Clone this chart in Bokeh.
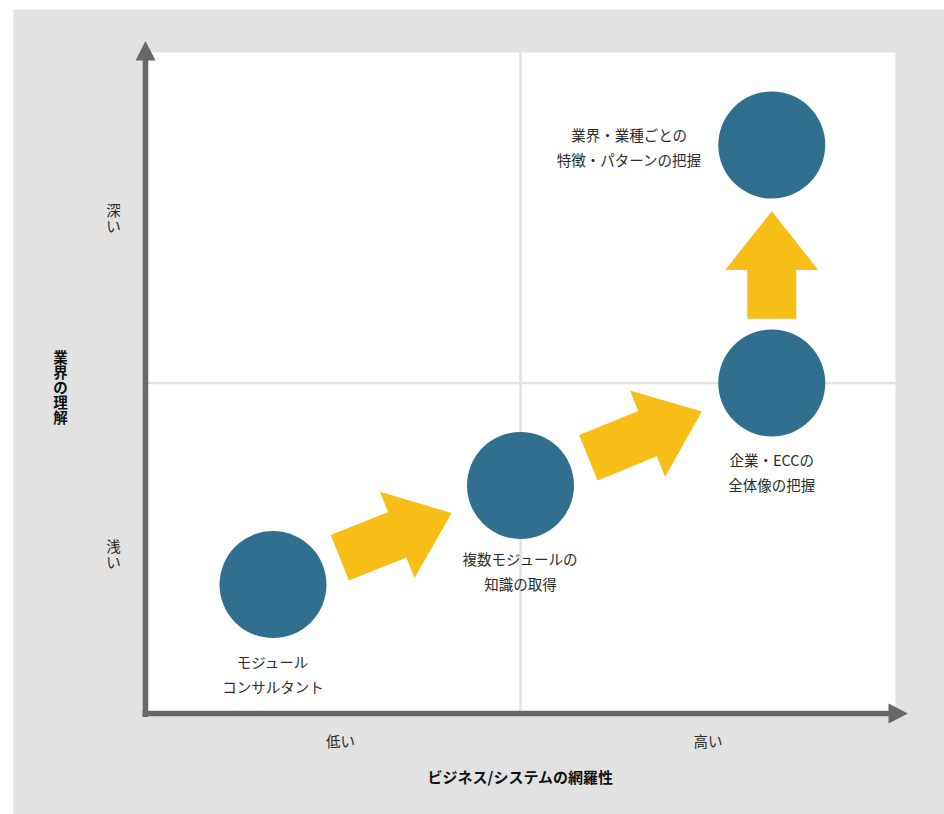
import numpy as np
from bokeh.plotting import figure
from bokeh.models import Range1d, ColumnDataSource
from bokeh.embed import file_html
from bokeh.resources import INLINE
from bokeh.core.properties import value

# ---------------- data ----------------
point_labels = ["モジュール\nコンサルタント", "複数モジュールの\n知識の取得",
                "企業・ECCの\n全体像の把握", "業界・業種ごとの\n特徴・パターンの把握"]
point_x = [0.34, 1.00, 1.67, 1.67]
point_y = [0.39, 0.69, 1.00, 1.72]
label_x = [0.34, 1.00, 1.67, 1.29]
label_y = [0.12, 0.43, 0.73, 1.715]
arrow_from = [0, 1, 2]
arrow_to = [1, 2, 3]
x_ticks = [0.52, 1.50]
x_tick_labels = ["低い", "高い"]
y_ticks = [0.485, 1.50]
y_tick_labels = ["浅\nい", "深\nい"]
x_title = "ビジネス/システムの網羅性"
y_title = "業\n界\nの\n理\n解"
x_mid = 1.0
y_mid = 1.0
x_max = 2.0
y_max = 2.0

# ---------------- layout (page pixels) ----------------
FIG_W, FIG_H, ORIGIN = 944, 814, 0
FL, FR, FT, FB = 145.0, 895.0, 52.0, 713.0   # plot area in picture px
SX = (FR - FL) / x_max
SY = (FB - FT) / y_max

def dx(px):
    return (px - FL) / SX

def dy(py):
    return (FB - py) / SY

def to_px(x):
    return FL + x * SX

def to_py(y):
    return FB - y * SY

FONT = "Noto Sans CJK JP"
BG = "#e1e2e1"
BLUE = "#30708e"
YELLOW = "#f7be17"
AXIS = "#686868"
GRID = "#e2e2e2"
TEXT = "#2b2b2b"

p = figure(width=FIG_W, height=FIG_H, output_backend="svg", toolbar_location=None,
           x_range=Range1d(dx(ORIGIN), dx(ORIGIN + FIG_W)),
           y_range=Range1d(dy(ORIGIN + FIG_H), dy(ORIGIN)),
           min_border=0, outline_line_color=None, background_fill_color="white",
           border_fill_color="white")
p.axis.visible = False
p.grid.visible = False

# background panel and white plotting area
p.quad(left=[dx(13)], right=[dx(960)], bottom=[dy(830)], top=[dy(9)],
       fill_color=BG, line_color=None)
p.quad(left=[0], right=[x_max], bottom=[0], top=[y_max], fill_color="white", line_color=None)

# quadrant lines
p.segment(x0=[x_mid, 0], y0=[0, y_mid], x1=[x_mid, x_max], y1=[y_max, y_mid],
          line_color=GRID, line_width=2.5)

# axes with arrow heads
p.segment(x0=[0], y0=[dy(FB + 3.5)], x1=[0], y1=[dy(FT + 7)], line_color=AXIS, line_width=5.5)
p.segment(x0=[dx(FL - 3)], y0=[0], x1=[dx(FR - 6)], y1=[0], line_color=AXIS, line_width=5.5)
p.patch(x=[dx(FL - 10), dx(FL + 10), 0], y=[dy(FT + 8), dy(FT + 8), dy(FT - 11.5)],
        fill_color=AXIS, line_color=None)
p.patch(x=[dx(FR - 7), dx(FR - 7), dx(FR + 12.5)], y=[dy(FB - 10), dy(FB + 10), 0],
        fill_color=AXIS, line_color=None)

# block arrows between points
SHAFT, HEAD_W, HEAD_L = 49.0, 93.0, 58.7
F0, F1 = 0.27, 0.722
xs, ys = [], []
for a, b in zip(arrow_from, arrow_to):
    ax, ay = to_px(point_x[a]), to_py(point_y[a])
    bx, by = to_px(point_x[b]), to_py(point_y[b])
    vx, vy = bx - ax, by - ay
    L = np.hypot(vx, vy)
    ux, uy = vx / L, vy / L
    nx, ny = -uy, ux
    tx, ty = ax + vx * F0, ay + vy * F0
    hx, hy = ax + vx * F1, ay + vy * F1
    bxh, byh = hx - ux * HEAD_L, hy - uy * HEAD_L
    pts = [
        (tx + nx * SHAFT / 2, ty + ny * SHAFT / 2),
        (bxh + nx * SHAFT / 2, byh + ny * SHAFT / 2),
        (bxh + nx * HEAD_W / 2, byh + ny * HEAD_W / 2),
        (hx, hy),
        (bxh - nx * HEAD_W / 2, byh - ny * HEAD_W / 2),
        (bxh - nx * SHAFT / 2, byh - ny * SHAFT / 2),
        (tx - nx * SHAFT / 2, ty - ny * SHAFT / 2),
    ]
    xs.append([dx(q[0]) for q in pts])
    ys.append([dy(q[1]) for q in pts])
p.patches(xs=xs, ys=ys, fill_color=YELLOW, line_color=None)

# circles
src = ColumnDataSource(dict(x=point_x, y=point_y))
p.scatter("x", "y", source=src, size=107, fill_color=BLUE, line_color=None)

# point labels
lsrc = ColumnDataSource(dict(x=label_x, y=label_y, t=point_labels))
p.text("x", "y", text="t", source=lsrc, text_font=value(FONT), text_font_size="14.5px",
       text_align="center", text_baseline="middle", text_color=TEXT, text_line_height=1.2)

# tick labels
p.text(x=x_ticks, y=[dy(FB + 27)] * len(x_ticks), text=x_tick_labels, text_font=value(FONT),
       text_font_size="14.5px", text_align="center", text_baseline="middle", text_color=TEXT)
p.text(x=[dx(FL - 32)] * len(y_ticks), y=y_ticks, text=y_tick_labels, text_font=value(FONT),
       text_font_size="14.5px", text_align="center", text_baseline="middle", text_color=TEXT,
       text_line_height=0.76)

# axis titles
p.text(x=[x_mid], y=[dy(FB + 63)], text=[x_title], text_font=value(FONT), text_font_size="15px",
       text_font_style="bold", text_align="center", text_baseline="middle", text_color="#111111")
p.text(x=[dx(60)], y=[dy(386)], text=[y_title], text_font=value(FONT), text_font_size="14.5px",
       text_font_style="bold", text_align="center", text_baseline="middle", text_color="#111111",
       text_line_height=0.72)

open("out.html", "w").write(file_html(p, INLINE))
